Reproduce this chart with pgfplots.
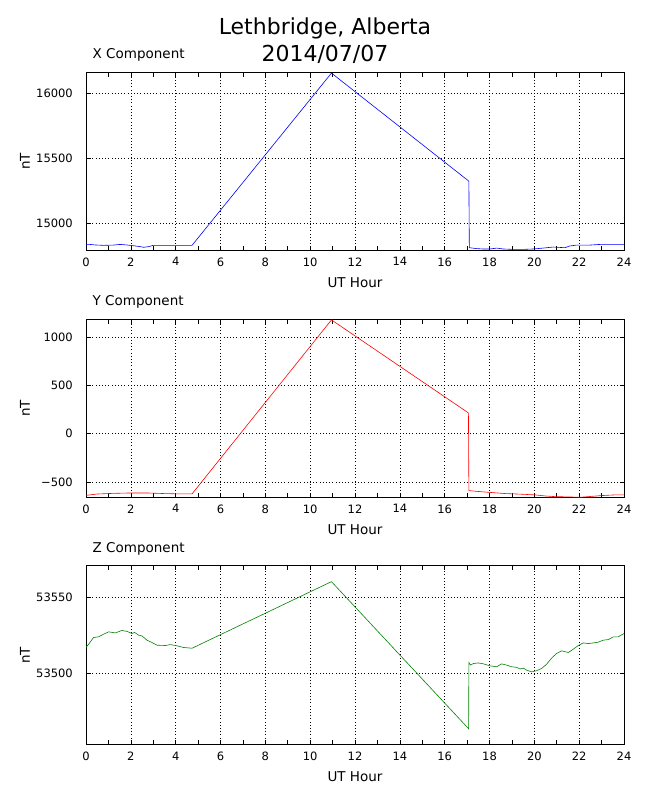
\documentclass[border=0pt]{standalone}
\usepackage{fontspec}
\setmainfont{DejaVu Sans}
\usepackage{pgfplots}
\pgfplotsset{compat=1.18}
\definecolor{mplgreen}{rgb}{0,0.5,0}
\pgfplotsset{
 mag/.style={
  scale only axis, width=538bp, height=178bp,
  xmin=0, xmax=24, xtick={0,2,...,24}, minor xtick={1,3,...,23},
  scaled ticks=false,
  grid=major, major grid style={black, line width=0.5bp, dash pattern=on 0.8bp off 2.4bp},
  tick align=inside, major tick length=4.5bp, minor tick length=4.5bp,
  tick style={black, line width=0.6bp},
  axis line style={black, line width=1bp},
  ticklabel style={font=\fontsize{11.5bp}{13bp}\selectfont, inner sep=0pt},
  xticklabel style={yshift=-7bp},
  yticklabel style={xshift=-13bp},
  /pgf/number format/fixed, /pgf/number format/1000 sep={}, /pgf/number format/assume math mode=true,
  xlabel={UT Hour}, ylabel={nT},
  label style={font=\fontsize{13.5bp}{16bp}\selectfont},
  xlabel style={at={(axis description cs:0.5,0)}, anchor=base, yshift=-37bp, inner sep=0pt},
  ylabel style={at={(axis description cs:-0.104,0.5)}, anchor=south, inner sep=0pt},
  title style={at={(axis description cs:0,1)}, anchor=base west, xshift=6.5bp, yshift=7.5bp, inner sep=0pt, font=\fontsize{13.5bp}{16bp}\selectfont},
  every axis plot/.append style={line width=0.6bp, no marks},
 }
}
\begin{document}
\begin{tikzpicture}
\useasboundingbox (0,0) rectangle (650bp,-800bp);
\node[anchor=base, font=\fontsize{22bp}{26bp}\selectfont, inner sep=0pt] at (325bp,-34bp) {Lethbridge, Alberta};
\node[anchor=base, font=\fontsize{22bp}{26bp}\selectfont, inner sep=0pt] at (325bp,-61.7bp) {2014/07/07};

\begin{axis}[mag, at={(86bp,-72.3bp)}, anchor=north west,
  ymin=14795, ymax=16160, ytick={15000,15500,16000}, yticklabels={15000,15500,16000}, title={X Component}]
\addplot[blue] coordinates {
(0,14841) (0.12,14841) (0.41,14836) (0.78,14833) (1.22,14835) (1.52,14840) (1.82,14836)
(2.12,14830) (2.42,14823) (2.57,14818) (2.79,14823) (3.0,14833) (3.6,14833) (4.2,14833)
(4.73,14833) (10.95,16154) (17.08,15325) (17.1,14815) (17.42,14808) (17.72,14805)
(18.02,14805) (18.32,14812) (18.61,14805) (19.06,14802) (19.5,14802) (19.95,14805)
(20.39,14812) (20.84,14820) (21.14,14817) (21.36,14815) (21.58,14828) (21.88,14835)
(22.47,14835) (22.92,14840) (23.66,14841) (24,14841)
};
\end{axis}

\begin{axis}[mag, at={(86bp,-319.3bp)}, anchor=north west,
  ymin=-660, ymax=1186, ytick={-500,0,500,1000}, yticklabels={−500,0,500,1000}, title={Y Component}]
\addplot[red] coordinates {
(0,-640) (0.49,-626) (1.23,-619) (1.97,-615) (2.72,-615) (3.46,-621) (4.2,-625) (4.73,-625)
(10.95,1180) (17.06,215) (17.08,-590) (17.36,-597) (17.95,-608) (18.69,-621) (19.44,-628)
(20.03,-635) (20.48,-646) (20.92,-653) (21.54,-656) (22.04,-660) (22.41,-653) (23.0,-642)
(23.6,-635) (24,-635)
};
\end{axis}

\begin{axis}[mag, at={(86bp,-565.7bp)}, anchor=north west, height=179bp,
  ymin=53453, ymax=53571, ytick={53500,53550}, yticklabels={53500,53550}, title={Z Component}]
\addplot[mplgreen] coordinates {
(0,53517.1) (0.12,53519.3) (0.34,53523.7) (0.56,53524.1) (0.79,53525.9) (1.01,53527.4)
(1.31,53526.7) (1.60,53528.3) (1.83,53527.7) (2.05,53526.3) (2.17,53527) (2.35,53525.2)
(2.50,53524.7) (2.72,53521.9) (2.94,53520.4) (3.17,53518.6) (3.54,53518.4) (3.76,53519)
(4.06,53518.2) (4.35,53517.1) (4.73,53516.6) (10.95,53560.5) (17.07,53463.5)
(17.08,53507.2) (17.15,53505.5) (17.28,53506.5) (17.50,53506.9) (17.73,53506.3)
(18.02,53505) (18.32,53504.4) (18.54,53506.3) (18.76,53505.5) (18.99,53504.4)
(19.21,53504) (19.36,53502.9) (19.51,53503.5) (19.65,53502.2) (19.88,53501)
(20.1,53501.8) (20.33,53503.3) (20.55,53506.1) (20.77,53510.1) (20.99,53513.1)
(21.22,53514.9) (21.37,53514.3) (21.52,53513.8) (21.74,53516) (21.96,53518.4)
(22.18,53520.1) (22.41,53519.7) (22.63,53520.1) (22.85,53520.6) (23.07,53521.9)
(23.30,53522.3) (23.52,53524.1) (23.74,53524.1) (24,53526.3)
};
\end{axis}
\end{tikzpicture}
\end{document}
